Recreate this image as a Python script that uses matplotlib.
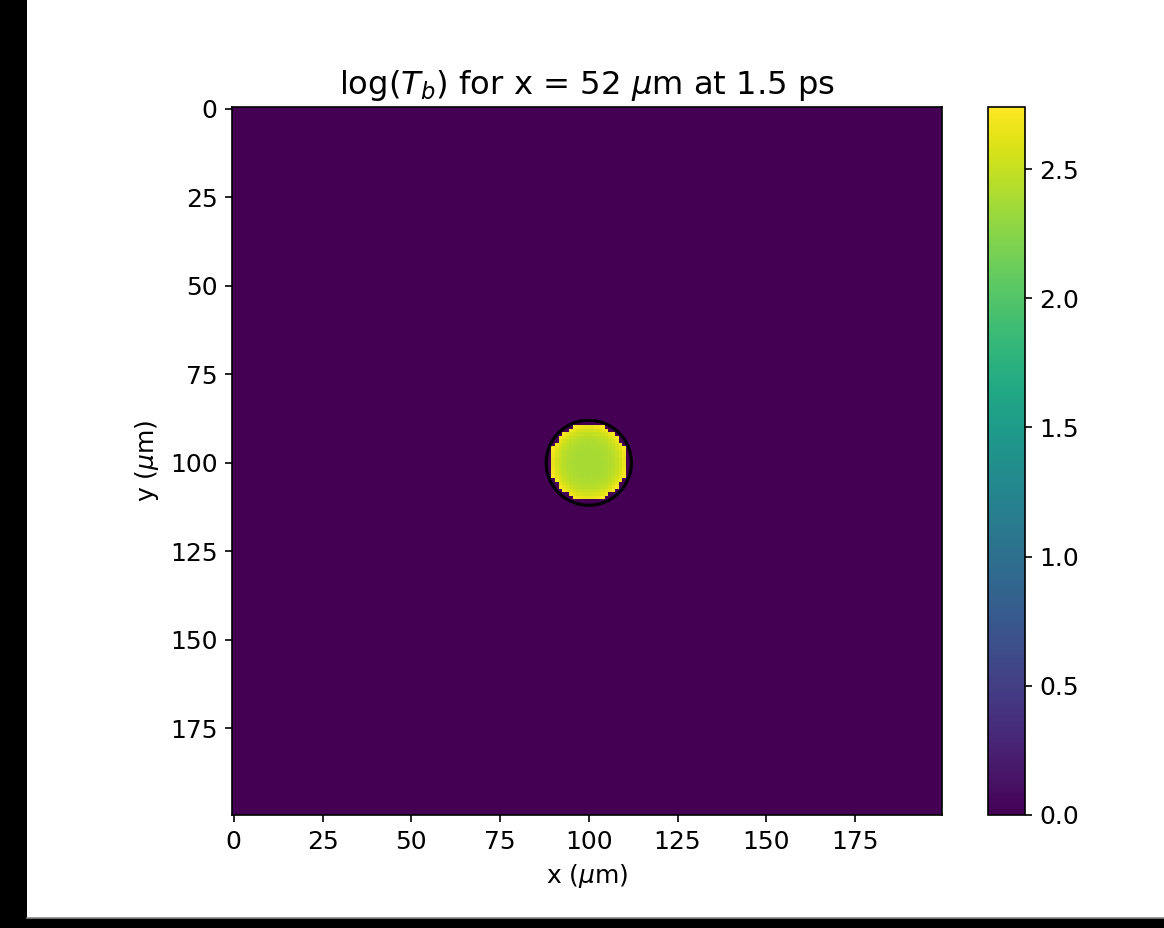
import matplotlib
matplotlib.use("Agg")
import matplotlib.pyplot as plt
import numpy as np
from matplotlib.patches import Circle, Rectangle
from matplotlib.lines import Line2D

# grid and hot spot values
n_cells = 200
spot_center = (100, 100)
spot_radius = 10.8        # filled region (cells)
outline_radius = 12.0     # black contour
background_val = 0.0
rim_val = 2.74
core_val = 2.38
vmax = 2.74

x_ticks = [0, 25, 50, 75, 100, 125, 150, 175]
y_ticks = [0, 25, 50, 75, 100, 125, 150, 175]
cbar_ticks = [0.0, 0.5, 1.0, 1.5, 2.0, 2.5]

title = r"log($T_b$) for x = 52 $\mu$m at 1.5 ps"

plt.rcParams['font.size'] = 12

# build the field
yy, xx = np.mgrid[0:n_cells, 0:n_cells]
rr = np.hypot(xx - spot_center[0], yy - spot_center[1])
field = np.full((n_cells, n_cells), background_val)
inside = rr <= spot_radius
frac = (rr[inside] / spot_radius) ** 4
field[inside] = core_val + (rim_val - core_val) * frac

fig = plt.figure(figsize=(1164 / 150, 928 / 150), dpi=150)
fig.patch.set_facecolor("black")
# white page with black margins like the reference screenshot
fig.patches.append(Rectangle((27 / 1164, 10 / 928), 1 - 27 / 1164, 1 - 10 / 928,
                             transform=fig.transFigure, facecolor="white",
                             edgecolor="none", zorder=-10))
fig.lines.append(Line2D([27 / 1164, 1], [10 / 928, 10 / 928], transform=fig.transFigure,
                        color="#888888", lw=0.8))

ax = fig.add_axes([232 / 1164, 113 / 928, 710 / 1164, 708 / 928])
im = ax.imshow(field, cmap="viridis", vmin=0, vmax=vmax, aspect="auto",
               interpolation="nearest")
ax.add_patch(Circle(spot_center, outline_radius, fill=False, edgecolor="black", lw=1.5))
ax.set_xticks(x_ticks)
ax.set_yticks(y_ticks)
ax.set_xlabel(r"x ($\mu$m)")
ax.set_ylabel(r"y ($\mu$m)")
ax.set_title(title, fontsize=15.5)

cax = fig.add_axes([988 / 1164, 113 / 928, 37 / 1164, 708 / 928])
cb = fig.colorbar(im, cax=cax)
cb.set_ticks(cbar_ticks)

fig.savefig("out.png", dpi=150, facecolor=fig.get_facecolor())
